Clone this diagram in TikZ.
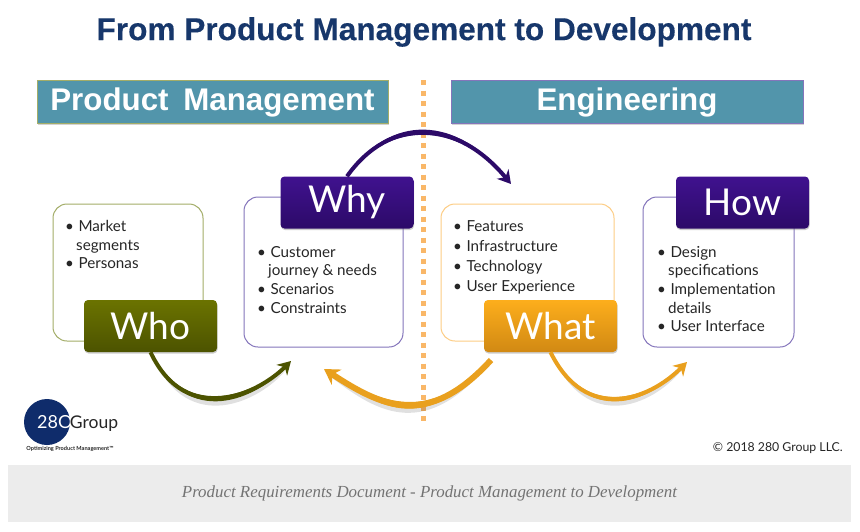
\documentclass[tikz,border=0pt]{standalone}
\usepackage{fontspec}
\setmainfont{Lato}
\newfontfamily\arialfont[FakeBold=0.25]{Liberation Sans Bold}
\newfontfamily\bannerfont{Liberation Sans Bold}
\newfontfamily\capfont{Liberation Serif}
\usetikzlibrary{shadows,arrows.meta,calc}
\definecolor{teal1}{HTML}{5295AB}
\definecolor{navy1}{HTML}{17376B}
\definecolor{olv}{HTML}{6B7300}
\definecolor{olvd}{HTML}{4C5300}
\definecolor{olvl}{HTML}{A3AD68}
\definecolor{pur}{HTML}{40128F}
\definecolor{purd}{HTML}{2C0A68}
\definecolor{purl}{HTML}{8475BB}
\definecolor{org}{HTML}{FDAE1C}
\definecolor{orgd}{HTML}{D18913}
\definecolor{orgl}{HTML}{FDCD85}
\definecolor{arr}{HTML}{E9A01E}
\definecolor{dots}{HTML}{F9B768}
\definecolor{txt}{HTML}{262626}
\definecolor{logoblue}{HTML}{0F2C6B}
\tikzset{
  x=1pt,y=-1pt,
  banner/.style={draw=#1,line width=1pt,fill=teal1,minimum height=43pt,text=white,inner sep=0pt,
    text height=24pt,text depth=7pt,
    font=\bannerfont\fontsize{31.3}{33}\selectfont,
    drop shadow={shadow xshift=1pt,shadow yshift=-1.5pt,opacity=.35}},
  card/.style={draw=#1,line width=1pt,rounded corners=14pt,fill=white,inner sep=0pt},
  head/.style 2 args={rounded corners=4pt,top color=#1,bottom color=#2,text=white,inner sep=0pt,
    minimum width=133pt,minimum height=52pt,font=\fontsize{37}{40}\selectfont,
    drop shadow={shadow xshift=.5pt,shadow yshift=-1.5pt,opacity=.4}},
  body/.style={anchor=north west,align=left,inner sep=0pt,text=txt,font=\fontsize{15.2}{18.6}\selectfont},
  flow/.style={draw=#1,line width=4pt,-{Stealth[length=13pt,width=15pt]}},
  shade/.style={fill=black,opacity=.12,draw=none},
}
\newcommand{\bl}{•\hspace{4.5pt}}
\newcommand{\ind}{\hspace*{11pt}}
% a swelling of the arrow shaft: colour, half swell, start, c1, c2, end
\newcommand{\taper}[8]{%
  \path[#1] (#3) .. controls (#4,#5+#2) and (#6,#7+#2) .. (#8) .. controls (#6,#7-#2) and (#4,#5-#2) .. (#3) -- cycle;}
\begin{document}
\begin{tikzpicture}
\useasboundingbox (0,0) rectangle (860,531);
\fill[white] (0,0) rectangle (860,531);
% title
\node[inner sep=0pt,text=navy1,font=\arialfont\fontsize{31.6}{33}\selectfont] (title) at (424,32) {From Product Management to Development};
% banners
\node[banner=olvl,minimum width=351pt] (pm) at (212.5,101.5) {Product\hspace{6pt} Management};
\node[banner=purl,minimum width=352pt] (eng) at (627,101.5) {Engineering};
% divider
\coordinate (divtop) at (423,80);
\coordinate (divbot) at (423,422);
\draw[dots,line width=5pt,dash pattern=on 5pt off 5.5pt] (divtop) -- (divbot);
% cards
\node[card=olvl,minimum width=150pt,minimum height=137pt] (whocard) at (128,272.5) {};
\node[card=purl,minimum width=159pt,minimum height=150pt] (whycard) at (323.5,272) {};
\node[card=orgl,minimum width=173pt,minimum height=137pt] (whatcard) at (527.5,272.5) {};
\node[card=purl,minimum width=151pt,minimum height=150pt] (howcard) at (718.5,272) {};
% arrow ends
\coordinate (whoend) at (291,361);
\coordinate (whyend) at (511,184);
\coordinate (backstart) at (491,360);
\coordinate (backend) at (324,369);
\coordinate (whatend) at (687,362);
% heads
\node[head={olv}{olvd}] (who) at (150.5,326) {Who};
\node[head={pur}{purd}] (why) at (347,202.5) {Why};
\node[head={org}{orgd}] (what) at (550.5,326) {What};
\node[head={pur}{purd}] (how) at (742.5,202.5) {How};
% body texts
\node[body] (whotext) at (65,220) {\bl Market\\\ind segments\\\bl Personas};
\node[body] (whytext) at (257,246) {\bl Customer\\\ind journey \& needs\\\bl Scenarios\\\bl Constraints};
\node[body,font=\fontsize{15.2}{20}\selectfont] (whattext) at (453,220) {\bl Features\\\bl Infrastructure\\\bl Technology\\\bl User Experience};
\node[body] (howtext) at (657,246) {\bl Design\\\ind specifications\\\bl Implementation\\\ind details\\\bl User Interface};
% Who to Why
\begin{scope}[shift={(1,3)}]\taper{shade}{5}{152,354}{187}{429}{259}{393}{284,368}\end{scope}
\taper{fill=olvd}{3.5}{152,352}{187}{429}{259}{393}{283,369}
\draw[flow=olvd] (who.south) .. controls (187,429) and (259,393) .. (whoend);
% Why to What
\taper{fill=purd}{3.5}{347,176}{390}{116}{457}{119}{505,177}
\draw[flow=purd] (why.north) .. controls (390,116) and (457,119) .. (whyend);
% What back to Why
\begin{scope}[shift={(-1,3)}]\taper{shade}{6}{491,360}{427}{430}{381}{406}{332,374}\end{scope}
\taper{fill=arr}{4.5}{491,360}{427}{430}{381}{406}{332,374}
\draw[flow=arr,line width=6pt,-{Stealth[length=15pt,width=18pt]}] (backstart) .. controls (427,430) and (381,406) .. (backend);
% What to How
\begin{scope}[shift={(1,3)}]\taper{shade}{4.5}{552,354}{586}{424}{649}{400}{680,368}\end{scope}
\taper{fill=arr}{3}{552,352}{586}{424}{649}{400}{680,369}
\draw[flow=arr] (what.south) .. controls (586,424) and (649,400) .. (whatend);
% logo
\node[circle,fill=logoblue,minimum size=46pt,inner sep=0pt] (logo) at (47,422) {};
\node[anchor=west,inner sep=0pt,font=\fontsize{18}{20}\selectfont] (logotext) at (37,423) {\textcolor{white}{28O}\hspace{-2.5pt}\textcolor{txt}{\fontsize{17.5}{20}\selectfont Group}};
\node[inner sep=0pt,font=\bfseries\fontsize{5.6}{6}\selectfont,text=txt] (tagline) at (70,449) {Optimizing Product Management™};
% copyright
\node[anchor=east,inner sep=0pt,text=txt,font=\fontsize{12.3}{14}\selectfont] (copy) at (843,448) {© 2018 280 Group LLC.};
% caption
\node[fill=black!7.5,minimum width=843pt,minimum height=57pt,inner sep=0pt,text=black!55,font=\capfont\itshape\fontsize{16.9}{18}\selectfont] (caption) at (429.5,493.5) {Product Requirements Document - Product Management to Development};
\end{tikzpicture}
\end{document}
